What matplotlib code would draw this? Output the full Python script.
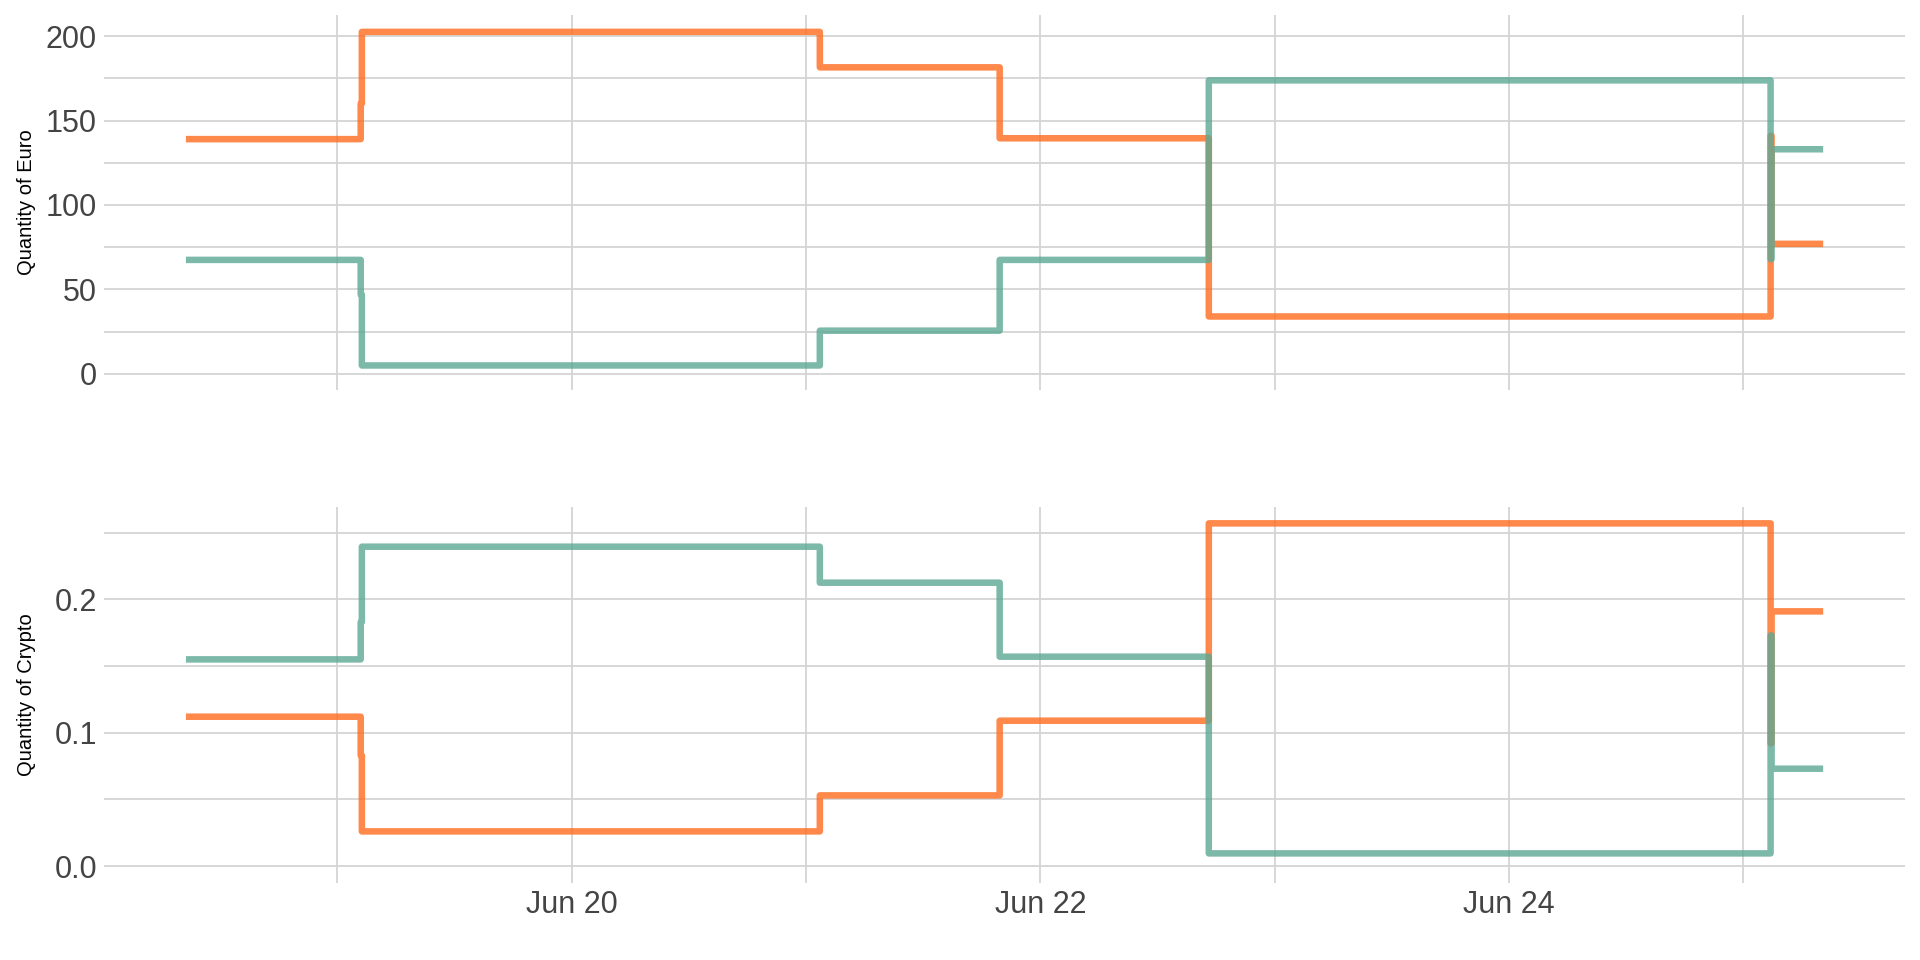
import pandas as pd
import matplotlib
matplotlib.use('Agg')
import matplotlib.pyplot as plt
import matplotlib.dates as mdates
from matplotlib.ticker import MultipleLocator, FormatStrFormatter

plt.rcParams['font.family'] = ['Liberation Sans Narrow', 'Liberation Sans', 'DejaVu Sans']

# step times (value holds until the next time)
times = pd.to_datetime(['2021-06-18 08:30', '2021-06-19 02:24', '2021-06-19 02:31',
                        '2021-06-21 01:25', '2021-06-21 19:50', '2021-06-22 17:15',
                        '2021-06-25 02:47', '2021-06-25 02:53', '2021-06-25 08:10'])

euro_orange = [139, 160, 202.5, 181.5, 139.5, 34, 141, 77, 77]
euro_teal = [67.5, 47, 5, 25.6, 67.5, 173.8, 68, 133, 133]
crypto_orange = [0.112, 0.083, 0.026, 0.053, 0.109, 0.257, 0.092, 0.191, 0.191]
crypto_teal = [0.155, 0.183, 0.2395, 0.2125, 0.157, 0.0095, 0.173, 0.073, 0.073]

orange = '#ff6a1e'
teal = '#5ca894'
grid_col = '#d4d4d4'

fig = plt.figure(figsize=(19.2, 9.6), dpi=100)
ax1 = fig.add_axes([0.0542, 0.5938, 0.938, 0.3906])
ax2 = fig.add_axes([0.0542, 0.0805, 0.938, 0.3917], sharex=ax1)

panels = [(ax1, euro_orange, euro_teal, 'Quantity of Euro'),
          (ax2, crypto_orange, crypto_teal, 'Quantity of Crypto')]

for ax, ys_o, ys_t, label in panels:
    ax.step(times, ys_o, where='post', color=orange, alpha=0.8, lw=4.7,
            solid_capstyle='butt', solid_joinstyle='round', snap=False)
    ax.step(times, ys_t, where='post', color=teal, alpha=0.8, lw=4.7,
            solid_capstyle='butt', solid_joinstyle='round', snap=False)
    for s in ax.spines.values():
        s.set_visible(False)
    ax.grid(True, which='both', color=grid_col, lw=1.3)
    ax.set_axisbelow(True)
    ax.tick_params(which='both', length=0, labelsize=22, labelcolor='#444444')
    ax.tick_params(axis='y', pad=5)
    ax.tick_params(axis='x', pad=5)
    ax.set_ylabel(label, fontsize=14.5, color='black')
    ax.yaxis.set_label_coords(-0.038, 0.5)

ax1.set_ylim(-9.5, 212.5)
ax1.yaxis.set_major_locator(MultipleLocator(50))
ax1.yaxis.set_minor_locator(MultipleLocator(25))
ax2.set_ylim(-0.0125, 0.2695)
ax2.yaxis.set_major_locator(MultipleLocator(0.1))
ax2.yaxis.set_minor_locator(MultipleLocator(0.05))
ax2.yaxis.set_major_formatter(FormatStrFormatter('%.1f'))

ax2.xaxis.set_major_locator(mdates.DayLocator(bymonthday=[20, 22, 24]))
ax2.xaxis.set_minor_locator(mdates.DayLocator(bymonthday=[19, 21, 23, 25]))
ax2.xaxis.set_major_formatter(mdates.DateFormatter('%b %d'))
ax1.tick_params(axis='x', labelbottom=False)

fig.savefig('out.png', dpi=100)
